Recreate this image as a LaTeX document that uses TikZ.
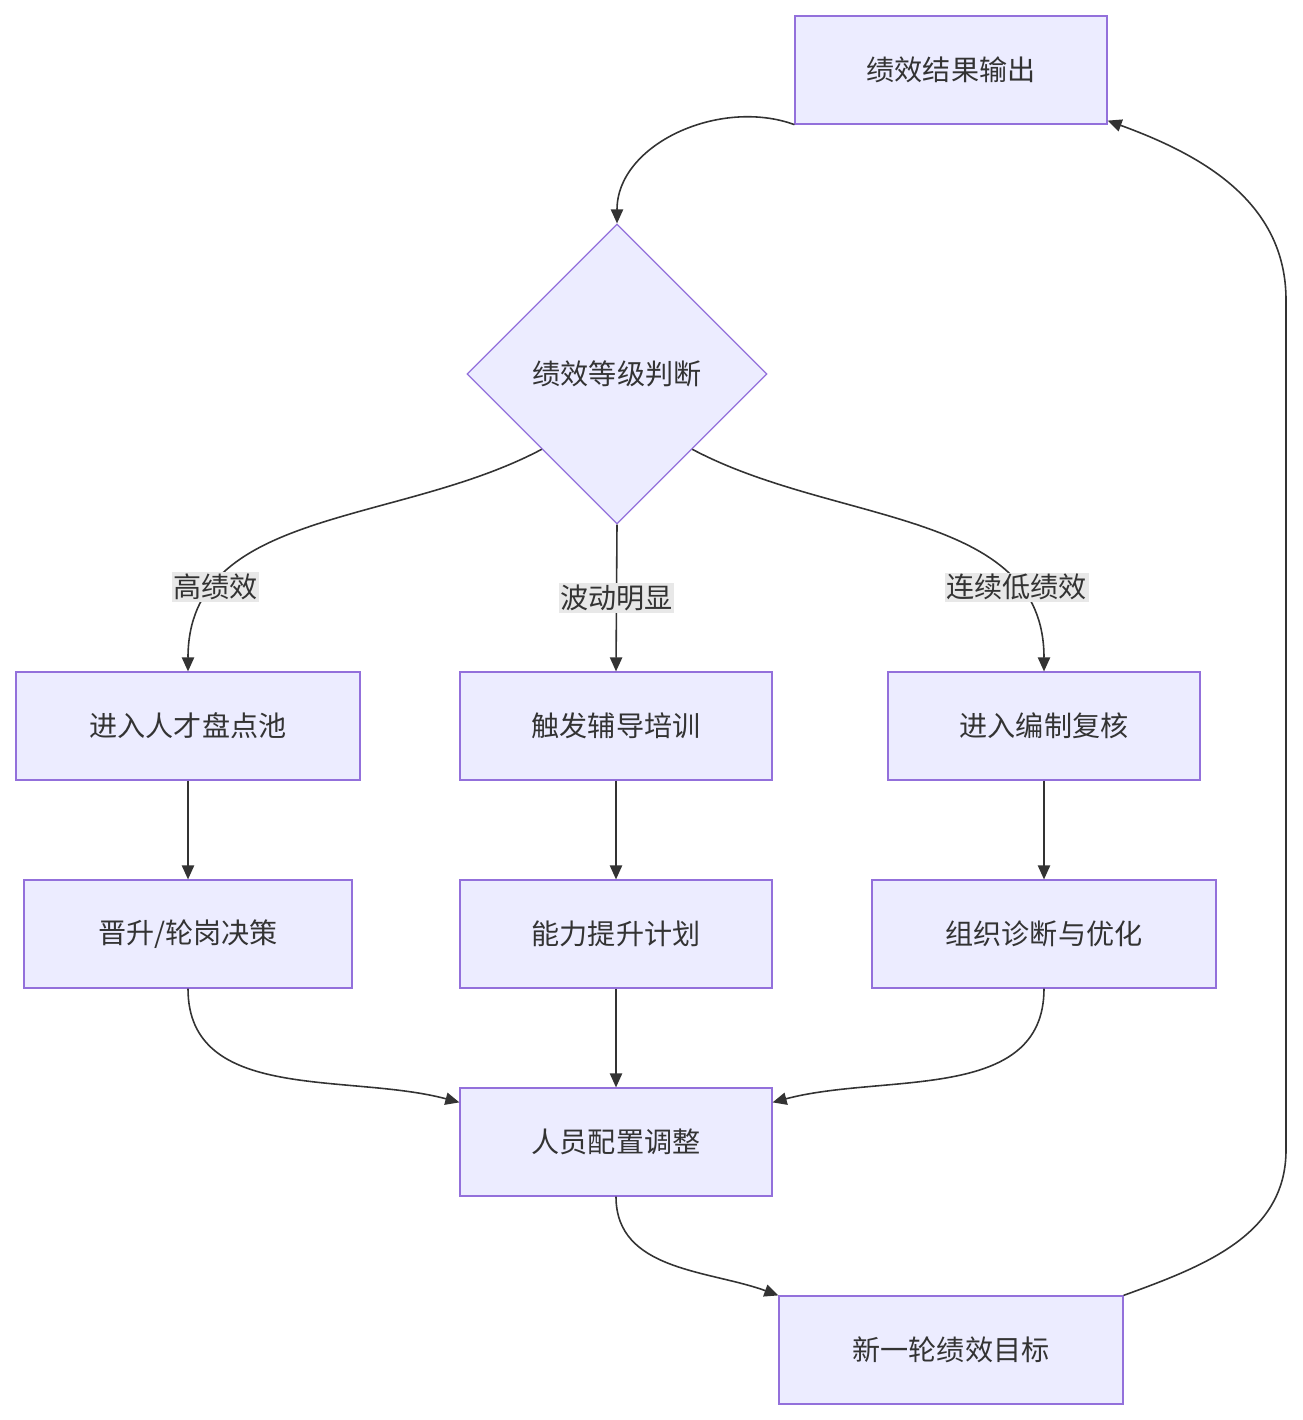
\documentclass[tikz,border=0pt]{standalone}
\usepackage{fontspec}
\setmainfont{Noto Sans CJK SC}
\usetikzlibrary{shapes.geometric,arrows.meta,positioning}
\definecolor{boxfill}{HTML}{ECECFF}
\definecolor{boxline}{HTML}{9370DB}
\definecolor{edge}{HTML}{333333}
\definecolor{lblbg}{HTML}{E8E8E8}

\begin{document}
\begin{tikzpicture}[
    x=0.02cm, y=-0.02cm,
    every node/.style={font=\fontsize{16}{19}\selectfont, text=edge},
    process/.style={rectangle, minimum height=2.16cm, minimum width=6.24cm,
                    text centered, draw=boxline, fill=boxfill, line width=0.7pt},
    decision/.style={diamond, minimum width=6cm, minimum height=6cm, aspect=1,
                     inner sep=0pt, text centered, draw=boxline, fill=boxfill, line width=0.7pt},
    lbl/.style={fill=lblbg, inner sep=1pt},
    arrow/.style={draw=edge, line width=0.9pt, -{Triangle[length=8pt,width=7pt]}}
]
    \useasboundingbox (0,0) rectangle (1302,1420);

    % Nodes
    \node (output) [process] at (951,70) {绩效结果输出};
    \node (grade) [decision] at (617,374) {绩效等级判断};
    \node (talent) [process, minimum width=6.88cm] at (188,726) {进入人才盘点池};
    \node (coach) [process] at (616,726) {触发辅导培训};
    \node (review) [process] at (1044,726) {进入编制复核};
    \node (promo) [process, minimum width=6.56cm] at (188,934) {晋升/轮岗决策};
    \node (ability) [process] at (616,934) {能力提升计划};
    \node (orgdiag) [process, minimum width=6.88cm] at (1044,934) {组织诊断与优化};
    \node (staff) [process] at (616,1142) {人员配置调整};
    \node (newgoal) [process, minimum width=6.88cm] at (951,1350) {新一轮绩效目标};

    \coordinate (loopdown) at (1286,1150);
    \coordinate (loopup) at (1286,300);

    % Arrows
    \draw [arrow] (output.south west) to[out=160,in=90] (grade.north);
    \draw [arrow] (grade.south west) to[out=-152,in=90]
        node[lbl, pos=0.78] {高绩效} (talent.north);
    \draw [arrow] (grade.south) -- node[lbl, pos=0.5] {波动明显} (coach.north);
    \draw [arrow] (grade.south east) to[out=-28,in=90]
        node[lbl, pos=0.78] {连续低绩效} (review.north);
    \draw [arrow] (talent) -- (promo);
    \draw [arrow] (coach) -- (ability);
    \draw [arrow] (review) -- (orgdiag);
    \draw [arrow] (promo.south) to[out=-90,in=165] ([yshift=-0.3cm]staff.north west);
    \draw [arrow] (ability) -- (staff);
    \draw [arrow] (orgdiag.south) to[out=-90,in=15] ([yshift=-0.3cm]staff.north east);
    \draw [arrow] (staff.south) to[out=-90,in=160] (newgoal.north west);
    \draw [arrow] (newgoal.north east) to[out=20,in=-90] (loopdown) -- (loopup)
        to[out=90,in=-20] ([yshift=0.08cm]output.south east);

\end{tikzpicture}
\end{document}
